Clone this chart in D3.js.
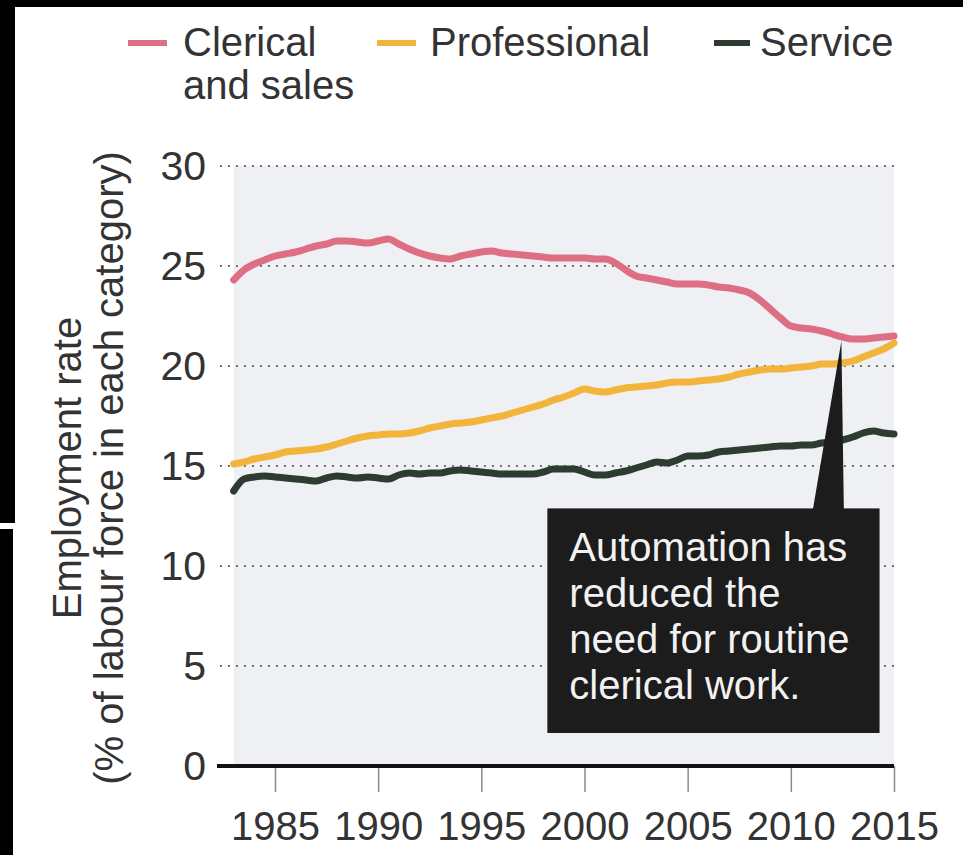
<!DOCTYPE html>
<html>
<head>
<meta charset="utf-8">
<script src="https://cdn.jsdelivr.net/npm/d3@7/dist/d3.min.js"></script>
<style>
  html, body { margin: 0; padding: 0; background: #fff; }
  svg { display: block; }
  text { font-family: "Liberation Sans", Arial, Helvetica, sans-serif; }
</style>
</head>
<body>
<svg id="chart" width="963" height="855"></svg>
<script>
// Employment rate by occupation group, half-yearly, 1983-2015
const years = [
  1983, 1983.5, 1984, 1984.5, 1985, 1985.5, 1986, 1986.5, 1987, 1987.5,
  1988, 1988.5, 1989, 1989.5, 1990, 1990.5, 1991, 1991.5, 1992, 1992.5,
  1993, 1993.5, 1994, 1994.5, 1995, 1995.5, 1996, 1996.5, 1997, 1997.5,
  1998, 1998.5, 1999, 1999.5, 2000, 2000.5, 2001, 2001.5, 2002, 2002.5,
  2003, 2003.5, 2004, 2004.5, 2005, 2005.5, 2006, 2006.5, 2007, 2007.5,
  2008, 2008.5, 2009, 2009.5, 2010, 2010.5, 2011, 2011.5, 2012, 2012.5,
  2013, 2013.5, 2014, 2014.5, 2015
];

const clerical = [
  24.3, 24.8, 25.1, 25.3, 25.5, 25.6, 25.7, 25.85, 26.0, 26.1,
  26.25, 26.25, 26.2, 26.15, 26.25, 26.35, 26.1, 25.85, 25.65, 25.5,
  25.4, 25.35, 25.5, 25.6, 25.7, 25.75, 25.65, 25.6, 25.55, 25.5,
  25.45, 25.4, 25.4, 25.4, 25.4, 25.35, 25.35, 25.15, 24.8, 24.5,
  24.4, 24.3, 24.2, 24.1, 24.1, 24.1, 24.05, 23.95, 23.9, 23.8,
  23.65, 23.3, 22.85, 22.4, 22.0, 21.9, 21.85, 21.75, 21.6, 21.45,
  21.35, 21.35, 21.4, 21.45, 21.5
];

const professional = [
  15.1, 15.2, 15.35, 15.45, 15.55, 15.7, 15.75, 15.8, 15.85, 15.95,
  16.1, 16.25, 16.4, 16.5, 16.55, 16.6, 16.6, 16.65, 16.75, 16.9,
  17.0, 17.1, 17.15, 17.2, 17.3, 17.4, 17.5, 17.65, 17.8, 17.95,
  18.1, 18.3, 18.45, 18.65, 18.85, 18.75, 18.7, 18.8, 18.9, 18.95,
  19.0, 19.05, 19.15, 19.2, 19.2, 19.25, 19.3, 19.35, 19.45, 19.6,
  19.7, 19.8, 19.85, 19.85, 19.9, 19.95, 20.0, 20.1, 20.1, 20.15,
  20.25, 20.45, 20.65, 20.85, 21.15
];

const service = [
  13.75, 14.35, 14.45, 14.5, 14.45, 14.4, 14.35, 14.3, 14.25, 14.4,
  14.5, 14.45, 14.4, 14.45, 14.4, 14.35, 14.55, 14.65, 14.6, 14.65,
  14.65, 14.75, 14.8, 14.75, 14.7, 14.65, 14.6, 14.6, 14.6, 14.6,
  14.7, 14.85, 14.85, 14.85, 14.7, 14.55, 14.55, 14.65, 14.75, 14.9,
  15.05, 15.2, 15.15, 15.3, 15.5, 15.5, 15.55, 15.7, 15.75, 15.8,
  15.85, 15.9, 15.95, 16.0, 16.0, 16.05, 16.05, 16.15, 16.2, 16.3,
  16.45, 16.65, 16.75, 16.65, 16.6
];

const yTicks = [0, 5, 10, 15, 20, 25, 30];
const xTicks = [1985, 1990, 1995, 2000, 2005, 2010, 2015];

const seriesNames = ["Clerical", "Professional", "Service"];
const legendLines = [["Clerical", "and sales"], ["Professional"], ["Service"]];
const axisTitle = ["Employment rate", "(% of labour force in each category)"];
const noteLines = ["Automation has", "reduced the", "need for routine", "clerical work."];

const colors = { Clerical: "#de6e84", Professional: "#f2b43a", Service: "#2d3b31" };

const svg = d3.select("#chart");

const x = d3.scaleLinear().domain([1983, 2015]).range([233.7, 894]);
const y = d3.scaleLinear().domain([0, 30]).range([766, 166]);

// page frame edges
svg.append("rect").attr("x", 0).attr("y", 0).attr("width", 963).attr("height", 7).attr("fill", "#000");
svg.append("rect").attr("x", 0).attr("y", 0).attr("width", 15).attr("height", 523).attr("fill", "#000");
svg.append("rect").attr("x", 0).attr("y", 529).attr("width", 13).attr("height", 326).attr("fill", "#000");

// plot background
svg.append("rect")
  .attr("x", x(1983)).attr("y", y(30))
  .attr("width", x(2015) - x(1983)).attr("height", y(0) - y(30))
  .attr("fill", "#eef0f3");

// dotted gridlines
svg.append("g").selectAll("line")
  .data(yTicks.filter(d => d > 0))
  .join("line")
  .attr("x1", 220).attr("x2", x(2015))
  .attr("y1", d => y(d)).attr("y2", d => y(d))
  .attr("stroke", "#666").attr("stroke-width", 1.8)
  .attr("stroke-dasharray", "1.8,6.2");

// y axis labels
const yAxis = svg.append("g")
  .attr("transform", `translate(206,0)`)
  .call(d3.axisLeft(y).tickValues(yTicks).tickSize(0).tickPadding(0).tickFormat(d3.format("d")));
yAxis.select(".domain").remove();
yAxis.selectAll("text")
  .attr("font-size", 41).attr("fill", "#333")
  .attr("font-family", "'Liberation Sans', Arial, sans-serif");

// x axis with downward ticks
const xAxis = svg.append("g")
  .attr("transform", `translate(0,${y(0)})`)
  .call(d3.axisBottom(x).tickValues(xTicks).tickSize(26).tickPadding(20).tickFormat(d3.format("d")));
xAxis.select(".domain").remove();
xAxis.selectAll(".tick line").attr("stroke", "#8a8a8a").attr("stroke-width", 1.5);
xAxis.selectAll("text")
  .attr("font-size", 40).attr("fill", "#333")
  .attr("font-family", "'Liberation Sans', Arial, sans-serif");

// zero baseline
svg.append("line")
  .attr("x1", 217).attr("x2", x(2015))
  .attr("y1", y(0)).attr("y2", y(0))
  .attr("stroke", "#111").attr("stroke-width", 4);

// series lines
const line = d3.line()
  .x((d, i) => x(years[i]))
  .y(d => y(d))
  .curve(d3.curveMonotoneX);

const seriesData = { Clerical: clerical, Professional: professional, Service: service };
seriesNames.forEach(name => {
  svg.append("path")
    .datum(seriesData[name])
    .attr("d", line)
    .attr("fill", "none")
    .attr("stroke", colors[name])
    .attr("stroke-width", 7)
    .attr("stroke-linejoin", "round")
    .attr("stroke-linecap", "round");
});

// y axis title
const title = svg.append("g")
  .attr("transform", `translate(0,${(y(0) + y(30)) / 2 + 2}) rotate(-90)`);
title.selectAll("text")
  .data(axisTitle)
  .join("text")
  .attr("x", 0)
  .attr("y", (d, i) => 81 + i * 42)
  .attr("text-anchor", "middle")
  .attr("font-size", 40)
  .attr("fill", "#333")
  .text(d => d);

// legend
const legendPos = [
  { sx: 128, ex: 167, tx: 183 },
  { sx: 377, ex: 416, tx: 430 },
  { sx: 714, ex: 750, tx: 760 }
];
const legend = svg.append("g");
seriesNames.forEach((name, i) => {
  const p = legendPos[i];
  legend.append("line")
    .attr("x1", p.sx).attr("x2", p.ex)
    .attr("y1", 43).attr("y2", 43)
    .attr("stroke", colors[name]).attr("stroke-width", 6);
  legend.append("text")
    .attr("x", p.tx).attr("y", 56)
    .attr("font-size", 40).attr("fill", "#333")
    .selectAll("tspan")
    .data(legendLines[i])
    .join("tspan")
    .attr("x", p.tx)
    .attr("dy", (d, j) => j === 0 ? 0 : 43)
    .text(d => d);
});

// annotation callout pointing at the clerical line
const note = { x0: 1998.2, x1: 2014.3, yTop: 12.88, yBottom: 1.65, tipYear: 2012.45, tipValue: 21.25, baseL: 2011.07, baseR: 2012.57 };
svg.append("path")
  .attr("d", `M${x(note.baseL)},${y(note.yTop) + 1} L${x(note.tipYear)},${y(note.tipValue)} L${x(note.baseR)},${y(note.yTop) + 1} Z`)
  .attr("fill", "#1c1c1c");
svg.append("rect")
  .attr("x", x(note.x0)).attr("y", y(note.yTop))
  .attr("width", x(note.x1) - x(note.x0))
  .attr("height", y(note.yBottom) - y(note.yTop))
  .attr("fill", "#1c1c1c");
svg.append("text")
  .attr("font-size", 40).attr("fill", "#f2f2f2")
  .selectAll("tspan")
  .data(noteLines)
  .join("tspan")
  .attr("x", x(note.x0) + 22)
  .attr("y", (d, i) => 561 + i * 46)
  .text(d => d);
</script>
</body>
</html>
